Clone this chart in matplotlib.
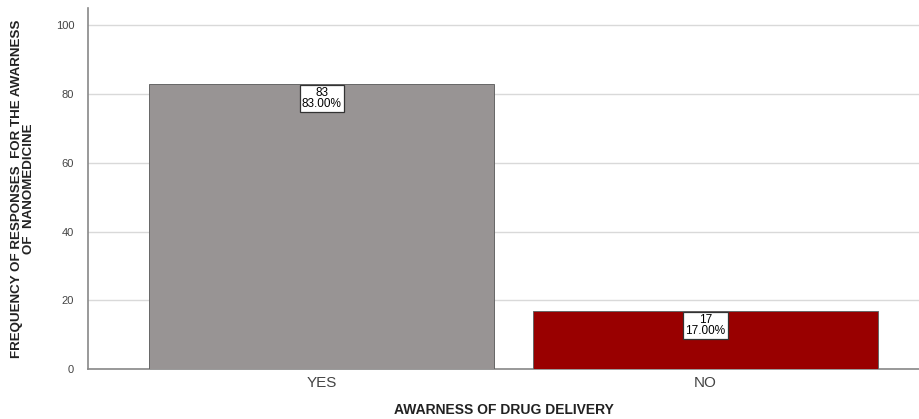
import matplotlib
matplotlib.use('Agg')
import matplotlib.pyplot as plt

# Data
categories = ['YES', 'NO']
counts = [83, 17]
percents = [83.00, 17.00]
colors = ['#989494', '#990000']

plt.rcParams['font.family'] = ['Liberation Sans', 'DejaVu Sans']

fig = plt.figure(figsize=(9.2, 4.19), dpi=100)
ax = fig.add_axes([0.0957, 0.119, 0.9043, 0.862])

x = list(range(len(categories)))
bars = ax.bar(x, counts, width=0.9, color=colors, edgecolor='#666666', linewidth=0.7, zorder=3)

# labels with boxes
for xi, c, p in zip(x, counts, percents):
    ax.text(xi, c - 1.0, '{}\n{:.2f}%'.format(c, p), ha='center', va='top',
            fontsize=8.5, linespacing=0.85, zorder=4,
            bbox=dict(boxstyle='square,pad=0.2', facecolor='white', edgecolor='#333333', linewidth=0.9))

ax.set_xlim(-0.61, 1.56)
ax.set_ylim(0, 105)
ax.set_yticks([0, 20, 40, 60, 80, 100])
ax.set_xticks(x)
ax.set_xticklabels(categories, fontsize=11, color='#444444')
ax.tick_params(axis='y', labelsize=8, colors='#444444', length=0, pad=10)
ax.tick_params(axis='x', length=0, pad=5)
ax.grid(axis='y', color='#d9d9d9', linewidth=1, zorder=0)

for s in ['top', 'right']:
    ax.spines[s].set_visible(False)
ax.spines['left'].set_color('#888888')
ax.spines['bottom'].set_color('#888888')
ax.spines['left'].set_linewidth(1.2)
ax.spines['bottom'].set_linewidth(1.2)

ax.set_xlabel('AWARNESS OF DRUG DELIVERY', fontsize=10, fontweight='bold', color='#222222', labelpad=9)
ax.set_ylabel('FREQUENCY OF RESPONSES  FOR THE AWARNESS\nOF  NANOMEDICINE', fontsize=9.6,
              fontweight='bold', color='#222222', linespacing=0.95, labelpad=15)

fig.savefig('out.png', dpi=100)
